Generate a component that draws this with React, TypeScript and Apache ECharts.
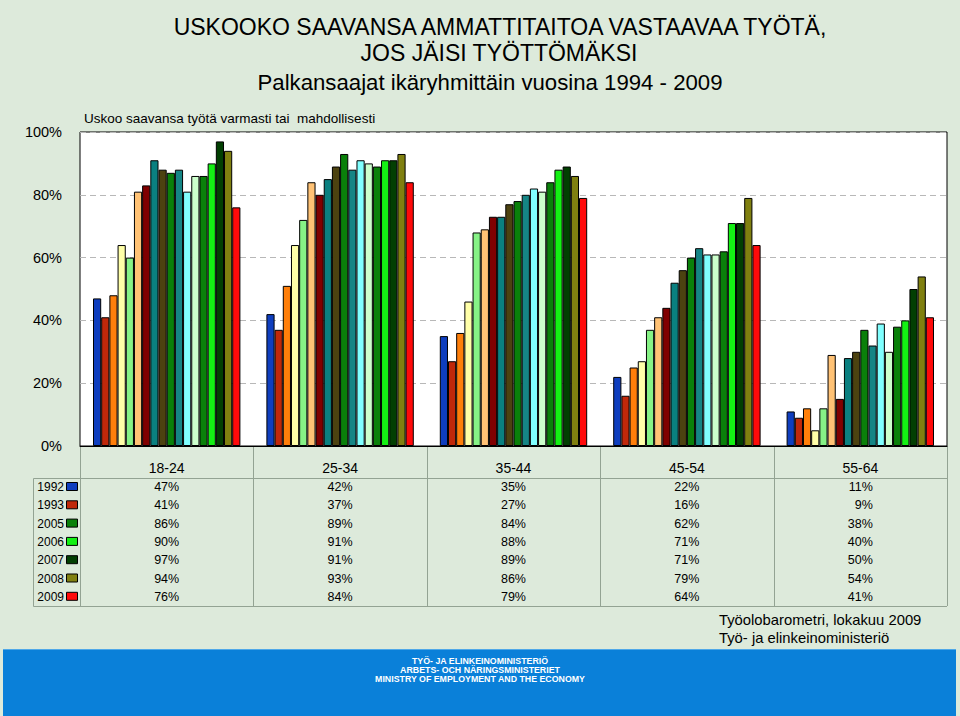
import React, { useEffect, useRef } from 'react';
import * as echarts from 'echarts';

const categories = ['18-24', '25-34', '35-44', '45-54', '55-64'];
const years = ['1992', '1993', '1994', '1995', '1996', '1997', '1998', '1999', '2000', '2001', '2002', '2003', '2004', '2005', '2006', '2007', '2008', '2009'];

const v1992 = [47, 42, 35, 22, 11];
const v1993 = [41, 37, 27, 16, 9];
const v1994 = [48, 51, 36, 25, 12];
const v1995 = [64, 64, 46, 27, 5];
const v1996 = [60, 72, 68, 37, 12];
const v1997 = [81, 84, 69, 41, 29];
const v1998 = [83, 80, 73, 44, 15];
const v1999 = [91, 85, 73, 52, 28];
const v2000 = [88, 89, 77, 56, 30];
const v2001 = [87, 93, 78, 60, 37];
const v2002 = [88, 88, 80, 63, 32];
const v2003 = [81, 91, 82, 61, 39];
const v2004 = [86, 90, 81, 61, 30];
const v2005 = [86, 89, 84, 62, 38];
const v2006 = [90, 91, 88, 71, 40];
const v2007 = [97, 91, 89, 71, 50];
const v2008 = [94, 93, 86, 79, 54];
const v2009 = [76, 84, 79, 64, 41];

const seriesValues = [v1992, v1993, v1994, v1995, v1996, v1997, v1998, v1999, v2000, v2001, v2002, v2003, v2004, v2005, v2006, v2007, v2008, v2009];

const colors = ['#0F3EBE', '#C0280A', '#FF7F0A', '#FFFFA8', '#86F286', '#FFC275', '#800000', '#0A8080', '#4C4210', '#0A800A', '#158585', '#80FFFF', '#CCFFCC', '#0A800A', '#14F014', '#023F02', '#808010', '#FF0A0A'];

const tableYears = ['1992', '1993', '2005', '2006', '2007', '2008', '2009'];
const yTicks = [0, 20, 40, 60, 80, 100];

const titleLine1 = 'USKOOKO SAAVANSA AMMATTITAITOA VASTAAVAA TYÖTÄ,';
const titleLine2 = 'JOS JÄISI TYÖTTÖMÄKSI';
const subtitle = 'Palkansaajat ikäryhmittäin vuosina 1994 - 2009';
const axisNote = 'Uskoo saavansa työtä varmasti tai  mahdollisesti';
const source1 = 'Työolobarometri, lokakuu 2009';
const source2 = 'Työ- ja elinkeinoministeriö';
const footerLines = ['TYÖ- JA ELINKEINOMINISTERIÖ', 'ARBETS- OCH NÄRINGSMINISTERIET', 'MINISTRY OF EMPLOYMENT AND THE ECONOMY'];

const W = 960;
const H = 716;
const FONT = '"Liberation Sans", Arial, Helvetica, sans-serif';

export default function App() {
  const ref = useRef<HTMLDivElement>(null);

  useEffect(() => {
    const chart = echarts.init(ref.current!, null, { renderer: 'svg' });
    const gridLeft = 80;
    const gridTop = 132;
    const gridRight = 13;
    const gridBottom = 270;

    chart.setOption({
      animation: false,
      backgroundColor: '#DDEADB',
      textStyle: { fontFamily: FONT },
      grid: {
        left: gridLeft, top: gridTop, right: gridRight, bottom: gridBottom,
        show: true, backgroundColor: '#FFFFFF', borderColor: '#000000', borderWidth: 1,
      },
      xAxis: {
        type: 'category',
        data: categories,
        axisLabel: { show: false },
        axisTick: { show: false },
        axisLine: { show: true, lineStyle: { color: '#000', width: 1 } },
      },
      yAxis: {
        type: 'value',
        min: 0,
        max: 100,
        interval: 20,
        axisLine: { show: false },
        axisTick: { show: false },
        axisLabel: {
          formatter: (v: number) => (yTicks.includes(v) ? v + '%' : ''),
          fontSize: 14.5, color: '#000', margin: 18, fontFamily: FONT,
        },
        splitLine: { show: true, lineStyle: { color: '#B8B8B8', type: [6, 4], width: 1 } },
      },
      series: years.map((y, i) => ({
        name: y,
        type: 'bar',
        data: seriesValues[i],
        barGap: '0%',
        barCategoryGap: '15%',
        itemStyle: { color: colors[i], borderColor: '#000', borderWidth: 1 },
      })),
    });

    const centers = categories.map((c) => chart.convertToPixel({ xAxisIndex: 0 }, c) as number);
    const band = centers[1] - centers[0];
    const plotBottom = chart.convertToPixel({ yAxisIndex: 0 }, 0) as number;
    const tableTop = 478;
    const tableBottom = 606;
    const tableLeft = 33;
    const rowStart = 487;
    const rowStep = 18.3;
    const lineColor = '#93A393';
    const right = centers[centers.length - 1] + band / 2;

    const els: any[] = [];
    // titles
    els.push({ type: 'text', x: 500, y: 27, style: { text: titleLine1, font: `23px ${FONT}`, fill: '#000', align: 'center', verticalAlign: 'middle' } });
    els.push({ type: 'text', x: 499, y: 53, style: { text: titleLine2, font: `23px ${FONT}`, fill: '#000', align: 'center', verticalAlign: 'middle' } });
    els.push({ type: 'text', x: 490, y: 82, style: { text: subtitle, font: `22.2px ${FONT}`, fill: '#000', align: 'center', verticalAlign: 'middle' } });
    els.push({ type: 'text', x: 84, y: 118, style: { text: axisNote, font: `13.5px ${FONT}`, fill: '#000', align: 'left', verticalAlign: 'middle' } });

    // table lines
    for (let i = 0; i <= categories.length; i++) {
      const x = Math.round(centers[0] - band / 2 + i * band) + 0.5;
      els.push({ type: 'line', shape: { x1: x, y1: plotBottom, x2: x, y2: tableBottom }, style: { stroke: lineColor, lineWidth: 1 } });
    }
    els.push({ type: 'line', shape: { x1: tableLeft + 0.5, y1: tableTop + 0.5, x2: right, y2: tableTop + 0.5 }, style: { stroke: lineColor, lineWidth: 1 } });
    els.push({ type: 'line', shape: { x1: tableLeft + 0.5, y1: tableBottom + 0.5, x2: right, y2: tableBottom + 0.5 }, style: { stroke: lineColor, lineWidth: 1 } });
    els.push({ type: 'line', shape: { x1: tableLeft + 0.5, y1: tableTop + 0.5, x2: tableLeft + 0.5, y2: tableBottom + 0.5 }, style: { stroke: lineColor, lineWidth: 1 } });

    // header
    categories.forEach((c, i) => {
      els.push({ type: 'text', x: centers[i], y: 468, style: { text: c, font: `14px ${FONT}`, fill: '#000', align: 'center', verticalAlign: 'middle' } });
    });

    // rows
    tableYears.forEach((yr, r) => {
      const si = years.indexOf(yr);
      const yy = rowStart + r * rowStep;
      els.push({ type: 'text', x: 64, y: yy, style: { text: yr, font: `12px ${FONT}`, fill: '#000', align: 'right', verticalAlign: 'middle' } });
      els.push({ type: 'rect', shape: { x: 66.5, y: yy - 4.5, width: 11, height: 8 }, style: { fill: colors[si], stroke: '#000', lineWidth: 1 } });
      seriesValues[si].forEach((v, ci) => {
        els.push({ type: 'text', x: centers[ci] + 12.5, y: yy, style: { text: v + '%', font: `12.5px ${FONT}`, fill: '#000', align: 'right', verticalAlign: 'middle' } });
      });
    });

    // source
    els.push({ type: 'text', x: 719, y: 620, style: { text: source1, font: `14.8px ${FONT}`, fill: '#000', align: 'left', verticalAlign: 'middle' } });
    els.push({ type: 'text', x: 719, y: 638, style: { text: source2, font: `14.8px ${FONT}`, fill: '#000', align: 'left', verticalAlign: 'middle' } });

    // footer band
    els.push({ type: 'rect', shape: { x: 3, y: 649, width: 953, height: 67 }, style: { fill: '#0A80D9' } });
    els.push({ type: 'line', shape: { x1: 3, y1: 649.5, x2: 956, y2: 649.5 }, style: { stroke: '#4FA8E8', lineWidth: 1 } });
    footerLines.forEach((t, i) => {
      els.push({ type: 'text', x: 480, y: 661 + i * 9, style: { text: t, font: `bold 8.8px ${FONT}`, fill: '#FFFFFF', align: 'center', verticalAlign: 'middle' } });
    });

    chart.setOption({ graphic: els });
    return () => chart.dispose();
  }, []);

  return <div ref={ref} style={{ position: 'fixed', left: 0, top: 0, width: W, height: H }} />;
}
